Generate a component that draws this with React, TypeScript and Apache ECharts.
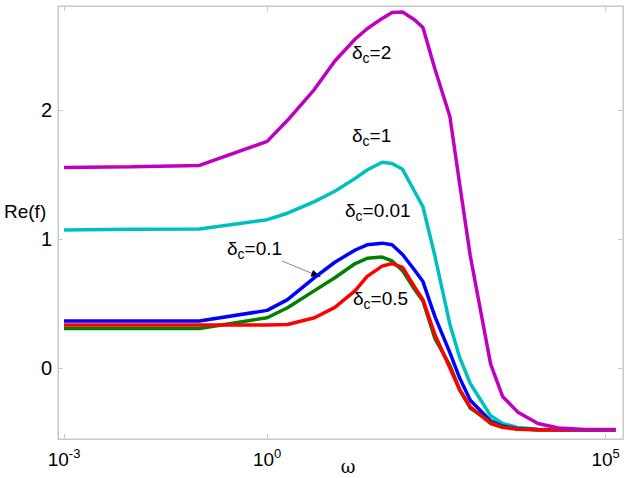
import React, { useEffect, useRef } from "react";
import * as echarts from "echarts";

const omega = [0.001, 0.01, 0.1, 1, 2, 5, 10, 20, 30, 50, 70, 100, 150, 200, 300, 500, 700, 1000, 2000, 3000, 5000, 1e4, 2e4, 5e4, 1e5, 1.4e5];

const reDelta2 = [1.555, 1.56, 1.57, 1.757, 1.92, 2.16, 2.38, 2.55, 2.63, 2.71, 2.755, 2.76, 2.7, 2.64, 2.32, 1.95, 1.42, 0.87, 0.03, -0.22, -0.34, -0.43, -0.465, -0.476, -0.476, -0.476];
const reDelta1 = [1.07, 1.075, 1.077, 1.15, 1.2, 1.29, 1.37, 1.47, 1.535, 1.595, 1.585, 1.54, 1.37, 1.25, 0.87, 0.34, 0.08, -0.12, -0.37, -0.43, -0.46, -0.475, -0.478, -0.478, -0.478, -0.478];
const reDelta01 = [0.364, 0.364, 0.364, 0.447, 0.53, 0.7, 0.82, 0.915, 0.955, 0.968, 0.955, 0.88, 0.76, 0.67, 0.4, 0.12, -0.08, -0.25, -0.41, -0.45, -0.47, -0.478, -0.478, -0.478, -0.478, -0.478];
const reDelta001 = [0.307, 0.307, 0.307, 0.39, 0.467, 0.6, 0.7, 0.81, 0.85, 0.86, 0.83, 0.755, 0.61, 0.52, 0.23, 0.02, -0.17, -0.31, -0.42, -0.455, -0.47, -0.478, -0.478, -0.478, -0.478, -0.478];
const reDelta05 = [0.333, 0.333, 0.333, 0.333, 0.338, 0.39, 0.47, 0.6, 0.71, 0.79, 0.81, 0.78, 0.63, 0.53, 0.26, 0.0, -0.17, -0.3, -0.43, -0.46, -0.475, -0.478, -0.478, -0.478, -0.478, -0.478];

const xTickValues = [0.001, 1, 100000];
const yTickValues = [0, 1, 2];

const seriesDefs = [
  { name: "δc=1", color: "#00BFBF", values: reDelta1 },
  { name: "δc=0.1", color: "#0000FF", values: reDelta01 },
  { name: "δc=0.01", color: "#008000", values: reDelta001 },
  { name: "δc=0.5", color: "#FF0000", values: reDelta05 },
  { name: "δc=2", color: "#BF00BF", values: reDelta2 },
];

const annotations = [
  { label: "2", x: 352, y: 52 },
  { label: "1", x: 352, y: 135 },
  { label: "0.01", x: 345, y: 210 },
  { label: "0.1", x: 227, y: 248 },
  { label: "0.5", x: 353, y: 298 },
];

const FONT = "'Liberation Sans', Arial, sans-serif";
const AXIS_GRAY = "#c8c8c8";

export default function App() {
  const ref = useRef<HTMLDivElement>(null);
  useEffect(() => {
    if (!ref.current) return;
    const chart = echarts.init(ref.current, undefined, { renderer: "svg" });
    const xMin = Math.pow(10, -3.089);
    const xMax = Math.pow(10, 5.256);
    const yMin = -0.55;
    const yMax = 2.806;

    const textRich = {
      d: { fontSize: 19, fontFamily: FONT, fill: "#000", color: "#000" },
      s: { fontSize: 14, fontFamily: FONT, fill: "#000", color: "#000", padding: [11, 0, 0, 0] },
    };

    const graphics: any[] = annotations.map((a) => ({
      type: "text",
      x: a.x,
      y: a.y,
      silent: true,
      style: {
        text: `{d|δ}{s|c}{d|=${a.label}}`,
        rich: textRich,
        verticalAlign: "middle",
        align: "left",
        fill: "#000",
      },
    }));
    graphics.push(
      {
        type: "line",
        silent: true,
        shape: { x1: 282, y1: 261, x2: 316, y2: 275 },
        style: { stroke: "#888", lineWidth: 1 },
      },
      {
        type: "polygon",
        silent: true,
        shape: { points: [[321, 277], [310.5, 276.4], [313.1, 270]] },
        style: { fill: "#000" },
      },
      {
        type: "text",
        x: 4,
        y: 211,
        style: { text: "Re(f)", font: `19px ${FONT}`, fill: "#000", verticalAlign: "middle", align: "left" },
      },
      {
        type: "text",
        x: 348,
        y: 466,
        style: { text: "ω", font: `18px 'DejaVu Serif', serif`, fill: "#000", verticalAlign: "middle", align: "center" },
      }
    );

    const xAxisCommon = {
      type: "log",
      logBase: 10,
      min: xMin,
      max: xMax,
      splitLine: { show: false },
      axisLine: { show: true, onZero: false, lineStyle: { color: AXIS_GRAY, width: 1 } },
      axisTick: { show: true, inside: true, length: 5, customValues: xTickValues, lineStyle: { color: AXIS_GRAY } },
      minorTick: { show: false },
    };
    const yAxisCommon = {
      type: "value",
      min: yMin,
      max: yMax,
      splitLine: { show: false },
      axisLine: { show: true, onZero: false, lineStyle: { color: AXIS_GRAY, width: 1 } },
      axisTick: { show: true, inside: true, length: 5, customValues: yTickValues, lineStyle: { color: AXIS_GRAY } },
    };

    chart.setOption({
      animation: false,
      backgroundColor: "#fff",
      grid: { left: 58, right: 7, top: 6, bottom: 39, show: true, borderColor: AXIS_GRAY, borderWidth: 1, containLabel: false },
      xAxis: [
        {
          ...xAxisCommon,
          position: "bottom",
          axisLabel: {
            show: true,
            inside: false,
            customValues: xTickValues,
            margin: 8,
            color: "#000",
            formatter: (v: number) => `{b|10}{sup|${Math.round(Math.log10(v))}}`,
            rich: {
              b: { fontSize: 19, fontFamily: FONT, color: "#000" },
              sup: { fontSize: 13, fontFamily: FONT, color: "#000", padding: [0, 0, 12, 0] },
            },
          },
        },
        { ...xAxisCommon, position: "top", axisLabel: { show: false } },
      ],
      yAxis: [
        {
          ...yAxisCommon,
          position: "left",
          axisLabel: {
            show: true,
            inside: false,
            customValues: yTickValues,
            margin: 6,
            fontSize: 20,
            fontFamily: FONT,
            color: "#000",
          },
        },
        { ...yAxisCommon, position: "right", axisLabel: { show: false } },
      ],
      series: seriesDefs.map((s) => ({
        name: s.name,
        type: "line",
        xAxisIndex: 0,
        yAxisIndex: 0,
        showSymbol: false,
        symbol: "none",
        smooth: false,
        lineStyle: { color: s.color, width: 3.5 },
        itemStyle: { color: s.color },
        data: omega.map((w, i) => [w, s.values[i]]),
      })),
      graphic: graphics,
    });
    return () => chart.dispose();
  }, []);
  return <div ref={ref} style={{ position: "fixed", left: 0, top: 0, width: 630, height: 478 }} />;
}
